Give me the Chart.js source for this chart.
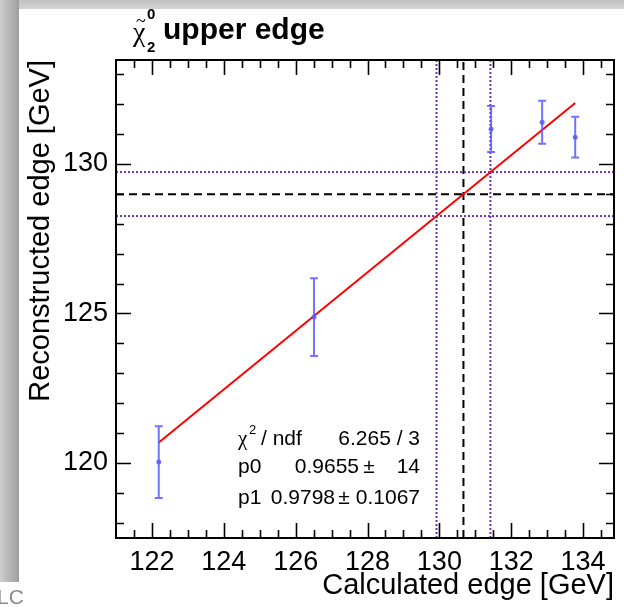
<!DOCTYPE html>
<html>
<head>
<meta charset="utf-8">
<script src="https://cdn.jsdelivr.net/npm/chart.js@4"></script>
<style>
  html, body { margin: 0; padding: 0; background: #fff; }
  #wrap { position: relative; width: 624px; height: 607px; overflow: hidden; }
  #topBand { position: absolute; left: 0; top: 0; width: 624px; height: 9px;
    background: linear-gradient(to bottom, #c0c0c0, #d4d4d4); }
  #leftBand { position: absolute; left: 0; top: 0; width: 19px; height: 582px;
    background: linear-gradient(to right, #d0d0d0 0%, #bcbcbc 35%, #acacac 75%, #9c9c9c 100%); }
  #corner { position: absolute; left: -3px; top: 585px; font: 21px "Liberation Sans", sans-serif; color: #8c8c8c; }
</style>
</head>
<body>
<div id="wrap">
  <canvas id="edgeChart" width="624" height="607"></canvas>
  <div id="topBand"></div>
  <div id="leftBand"></div>
  <div id="corner">LC</div>
</div>
<script>
// calculated vs reconstructed edge positions
const calcEdge = [122.19, 126.51, 131.44, 132.86, 133.78];
const recoEdge = [120.03, 124.88, 131.17, 131.40, 130.90];
const recoErr = [1.20, 1.30, 0.77, 0.72, 0.68];

// linear fit result (p0 + p1*x)
const fitP0 = 0.9655;
const fitP1 = 0.9798;
const fitStats = { chi2: "6.265 / 3", p0: "0.9655", p0err: "14", p1: "0.9798", p1err: "0.1067" };

// measured edge band and where it hits the fit
const measuredY = [128.26, 128.99, 129.73];
const crossingX = [129.92, 130.67, 131.42];

const xTicks = [122, 124, 126, 128, 130, 132, 134];
const yTicks = [120, 125, 130];
const xRange = [121.0, 134.86];
const yRange = [117.49, 133.48];

const blue = "rgba(90, 90, 255, 0.85)";
const purple = "#7030b0";

function hLine(v, color, dash) {
    return { type: "line", data: [{ x: xRange[0], y: v }, { x: xRange[1], y: v }],
        borderColor: color, borderWidth: 2, borderDash: dash, pointRadius: 0, order: 3 };
}
function vLine(v, color, dash) {
    return { type: "line", data: [{ x: v, y: yRange[0] }, { x: v, y: yRange[1] }],
        borderColor: color, borderWidth: 2, borderDash: dash, pointRadius: 0, order: 3 };
}

const datasets = [
    { type: "scatter", data: calcEdge.map((x, i) => ({ x: x, y: recoEdge[i] })),
      pointRadius: 2.5, pointBackgroundColor: blue, pointBorderWidth: 0, order: 1 },
    { type: "line", data: [calcEdge[0], calcEdge[calcEdge.length - 1]].map(x => ({ x: x, y: fitP0 + fitP1 * x })),
      borderColor: "#ff0000", borderWidth: 2, pointRadius: 0, order: 2 },
];
datasets.push(hLine(measuredY[0], purple, [2, 2]));
datasets.push(hLine(measuredY[1], "#000", [8, 5]));
datasets.push(hLine(measuredY[2], purple, [2, 2]));
datasets.push(vLine(crossingX[0], purple, [2, 2]));
datasets.push(vLine(crossingX[1], "#000", [8, 5]));
datasets.push(vLine(crossingX[2], purple, [2, 2]));

//error bars on the points
const errorBars = {
    id: "errorBars",
    afterDatasetsDraw(chart) {
        const { ctx, scales: { x, y } } = chart;
        ctx.save();
        ctx.strokeStyle = blue;
        ctx.lineWidth = 2;
        calcEdge.forEach((cx, i) => {
            const px = x.getPixelForValue(cx);
            const top = y.getPixelForValue(recoEdge[i] + recoErr[i]);
            const bot = y.getPixelForValue(recoEdge[i] - recoErr[i]);
            ctx.beginPath();
            ctx.moveTo(px, top); ctx.lineTo(px, bot);
            ctx.moveTo(px - 4, top); ctx.lineTo(px + 4, top);
            ctx.moveTo(px - 4, bot); ctx.lineTo(px + 4, bot);
            ctx.stroke();
        });
        ctx.restore();
    }
};

//box frame with inward ticks on all four sides, title and fit stats
const frame = {
    id: "frame",
    afterDraw(chart) {
        const { ctx, chartArea: a, scales: { x, y } } = chart;
        ctx.save();
        ctx.strokeStyle = "#000";
        ctx.lineWidth = 2;
        ctx.strokeRect(a.left, a.top, a.right - a.left, a.bottom - a.top);

        ctx.lineWidth = 1.6;
        ctx.beginPath();
        for (let v = 121.5; v < xRange[1]; v += 0.5) {
            const px = Math.round(x.getPixelForValue(v)) + 0.5;
            const len = v % 2 === 0 ? 15 : 8;
            ctx.moveTo(px, a.bottom); ctx.lineTo(px, a.bottom - len);
            ctx.moveTo(px, a.top); ctx.lineTo(px, a.top + len);
        }
        for (let v = 118; v < yRange[1]; v += 1) {
            const py = Math.round(y.getPixelForValue(v)) + 0.5;
            const len = v % 5 === 0 ? 15 : 8;
            ctx.moveTo(a.left, py); ctx.lineTo(a.left + len, py);
            ctx.moveTo(a.right, py); ctx.lineTo(a.right - len, py);
        }
        ctx.stroke();

        // title
        ctx.fillStyle = "#000";
        ctx.textBaseline = "alphabetic";
        ctx.textAlign = "left";
        ctx.font = '28px "Liberation Serif"';
        ctx.fillText("χ", 133, 41);
        ctx.font = '18px "Liberation Serif"';
        ctx.fillText("~", 136, 27);
        ctx.font = 'bold 15px "Liberation Sans"';
        ctx.fillText("0", 147, 19);
        ctx.fillText("2", 147, 52);
        ctx.font = 'bold 30px "Liberation Sans"';
        ctx.fillText("upper edge", 163, 39);

        // fit statistics
        const sx = 238, ex = 420;
        ctx.font = '21px "Liberation Serif"';
        ctx.fillText("χ", sx, 445);
        ctx.font = '13px "Liberation Sans"';
        ctx.fillText("2", sx + 11, 434);
        ctx.font = '21px "Liberation Sans"';
        ctx.fillText("/ ndf", sx + 23, 445);
        ctx.textAlign = "right";
        ctx.fillText(fitStats.chi2, ex, 445);

        ctx.textAlign = "left";
        ctx.fillText("p0", sx, 473);
        ctx.textAlign = "right";
        ctx.fillText(fitStats.p0, 359, 473);
        ctx.fillText(fitStats.p0err, ex, 473);
        ctx.textAlign = "center";
        ctx.fillText("±", 369, 473);

        ctx.textAlign = "left";
        ctx.fillText("p1", sx, 504);
        ctx.textAlign = "right";
        ctx.fillText(fitStats.p1, 335, 504);
        ctx.fillText(fitStats.p1err, ex, 504);
        ctx.textAlign = "center";
        ctx.fillText("±", 344, 504);
        ctx.restore();
    }
};

new Chart(document.getElementById("edgeChart"), {
    data: { datasets: datasets },
    options: {
        responsive: false,
        animation: false,
        layout: { padding: { top: 60, right: 10, left: 0, bottom: 0 } },
        plugins: { legend: { display: false }, tooltip: { enabled: false } },
        scales: {
            x: {
                type: "linear", min: xRange[0], max: xRange[1],
                grid: { display: false, drawTicks: false },
                border: { display: false },
                afterBuildTicks: s => { s.ticks = xTicks.map(v => ({ value: v })); },
                afterFit: s => { s.height = 69; },
                ticks: { color: "#000", padding: 8, font: { family: "Liberation Sans", size: 27 } },
                title: { display: true, align: "end", text: "Calculated edge [GeV]", color: "#000",
                         padding: { top: 0, bottom: 4 }, font: { family: "Liberation Sans", size: 29 } }
            },
            y: {
                type: "linear", min: yRange[0], max: yRange[1],
                grid: { display: false, drawTicks: false },
                border: { display: false },
                afterBuildTicks: s => { s.ticks = yTicks.map(v => ({ value: v })); },
                afterFit: s => { s.width = 116; },
                ticks: { color: "#000", padding: 8, font: { family: "Liberation Sans", size: 27 } },
                title: { display: true, align: "end", text: "Reconstructed edge [GeV]", color: "#000",
                         padding: { top: 24, bottom: 0 }, font: { family: "Liberation Sans", size: 29 } }
            }
        }
    },
    plugins: [errorBars, frame]
});
</script>
</body>
</html>
